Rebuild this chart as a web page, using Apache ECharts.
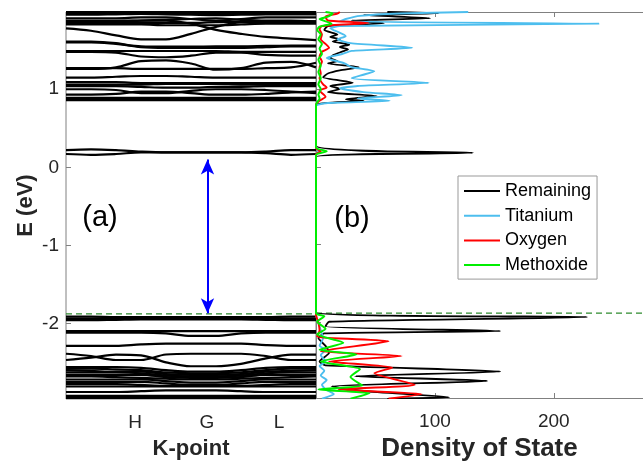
<!DOCTYPE html>
<html>
<head>
<meta charset="utf-8">
<script src="https://cdn.jsdelivr.net/npm/echarts@6/dist/echarts.min.js"></script>
<style>
  html, body { margin: 0; padding: 0; background: #fff; }
  #chart { width: 643px; height: 467px; }
</style>
</head>
<body>
<div id="chart"></div>
<script>
// k-path sample points and labels (band structure panel)
const kPts = [0, 0.1, 0.2, 0.3, 0.4, 0.5, 0.6, 0.7, 0.8, 0.9, 1.0];
const kTicks = [0.276, 0.564, 0.852];
const kLabels = ['H', 'G', 'L'];
const eTicks = [-2, -1, 0, 1];
const dosTicks = [100, 200];

// band energies (eV) at each k point
const upperBands = [
  [1.99, 1.99, 1.99, 1.99, 1.99, 1.99, 1.99, 1.99, 1.99, 1.99, 1.99],
  [1.975, 1.975, 1.98, 1.98, 1.975, 1.97, 1.975, 1.98, 1.98, 1.975, 1.975],
  [1.955, 1.955, 1.96, 1.965, 1.96, 1.955, 1.95, 1.955, 1.96, 1.96, 1.96],
  [1.91, 1.91, 1.91, 1.92, 1.92, 1.90, 1.88, 1.90, 1.92, 1.92, 1.92],
  [1.87, 1.87, 1.87, 1.88, 1.89, 1.90, 1.91, 1.89, 1.88, 1.88, 1.87],
  [1.85, 1.85, 1.85, 1.85, 1.85, 1.85, 1.86, 1.86, 1.86, 1.85, 1.85],
  [1.83, 1.83, 1.83, 1.83, 1.82, 1.82, 1.82, 1.83, 1.84, 1.84, 1.84],
  [1.78, 1.75, 1.69, 1.64, 1.64, 1.71, 1.80, 1.86, 1.87, 1.87, 1.87],
  [1.88, 1.88, 1.88, 1.88, 1.88, 1.84, 1.76, 1.71, 1.67, 1.65, 1.63],
  [1.61, 1.61, 1.59, 1.54, 1.53, 1.53, 1.53, 1.53, 1.54, 1.55, 1.55],
  [1.60, 1.60, 1.58, 1.55, 1.545, 1.545, 1.55, 1.55, 1.555, 1.56, 1.56],
  [1.49, 1.49, 1.49, 1.49, 1.49, 1.49, 1.49, 1.48, 1.48, 1.48, 1.48],
  [1.48, 1.48, 1.47, 1.42, 1.41, 1.43, 1.47, 1.47, 1.44, 1.43, 1.43],
  [1.26, 1.26, 1.28, 1.36, 1.37, 1.33, 1.25, 1.27, 1.34, 1.35, 1.28],
  [1.27, 1.27, 1.27, 1.26, 1.26, 1.26, 1.26, 1.26, 1.27, 1.28, 1.34],
  [1.15, 1.15, 1.16, 1.17, 1.17, 1.16, 1.15, 1.15, 1.15, 1.15, 1.15],
  [1.09, 1.09, 1.09, 1.08, 1.08, 1.08, 1.08, 1.08, 1.08, 1.08, 1.08],
  [1.06, 1.06, 1.06, 1.06, 1.07, 1.07, 1.07, 1.06, 1.06, 1.06, 1.06],
  [1.04, 1.04, 1.04, 1.03, 1.02, 1.02, 1.03, 1.03, 1.04, 1.04, 1.04],
  [1.00, 1.00, 0.99, 0.95, 0.95, 0.98, 1.00, 1.00, 0.99, 0.97, 0.95],
  [0.93, 0.93, 0.94, 0.97, 0.97, 0.95, 0.93, 0.93, 0.94, 0.96, 0.97],
  [0.89, 0.89, 0.89, 0.89, 0.89, 0.89, 0.89, 0.89, 0.89, 0.89, 0.89],
  [0.86, 0.86, 0.86, 0.86, 0.86, 0.86, 0.86, 0.86, 0.86, 0.86, 0.86]
];
const gapBands = [
  [0.22, 0.23, 0.22, 0.20, 0.19, 0.19, 0.19, 0.19, 0.20, 0.22, 0.22],
  [0.17, 0.16, 0.17, 0.19, 0.19, 0.19, 0.19, 0.19, 0.18, 0.16, 0.17]
];
const lowerBands = [
  [-1.915, -1.915, -1.92, -1.92, -1.92, -1.92, -1.92, -1.92, -1.92, -1.915, -1.915],
  [-1.94, -1.94, -1.94, -1.935, -1.935, -1.935, -1.935, -1.94, -1.94, -1.94, -1.94],
  [-1.96, -1.96, -1.955, -1.95, -1.95, -1.95, -1.95, -1.95, -1.955, -1.96, -1.96],
  [-2.10, -2.10, -2.10, -2.10, -2.10, -2.10, -2.10, -2.10, -2.10, -2.10, -2.10],
  [-2.12, -2.12, -2.12, -2.12, -2.13, -2.16, -2.16, -2.13, -2.12, -2.12, -2.12],
  [-2.29, -2.29, -2.29, -2.27, -2.26, -2.26, -2.26, -2.26, -2.28, -2.29, -2.29],
  [-2.39, -2.42, -2.47, -2.47, -2.40, -2.39, -2.39, -2.39, -2.42, -2.47, -2.47],
  [-2.47, -2.44, -2.40, -2.41, -2.50, -2.55, -2.55, -2.52, -2.45, -2.40, -2.40],
  [-2.56, -2.56, -2.56, -2.57, -2.60, -2.62, -2.62, -2.60, -2.57, -2.56, -2.56],
  [-2.58, -2.58, -2.59, -2.60, -2.63, -2.64, -2.64, -2.63, -2.60, -2.58, -2.58],
  [-2.60, -2.61, -2.62, -2.62, -2.65, -2.66, -2.66, -2.65, -2.62, -2.61, -2.60],
  [-2.63, -2.63, -2.63, -2.64, -2.67, -2.68, -2.68, -2.67, -2.64, -2.63, -2.63],
  [-2.66, -2.66, -2.66, -2.66, -2.69, -2.70, -2.70, -2.69, -2.66, -2.66, -2.66],
  [-2.68, -2.68, -2.69, -2.70, -2.71, -2.72, -2.72, -2.71, -2.70, -2.69, -2.68],
  [-2.72, -2.72, -2.72, -2.72, -2.74, -2.76, -2.76, -2.74, -2.72, -2.72, -2.72],
  [-2.75, -2.75, -2.75, -2.75, -2.77, -2.79, -2.79, -2.77, -2.75, -2.75, -2.75],
  [-2.78, -2.78, -2.78, -2.79, -2.80, -2.80, -2.80, -2.80, -2.79, -2.78, -2.78],
  [-2.81, -2.81, -2.81, -2.81, -2.81, -2.81, -2.81, -2.81, -2.81, -2.81, -2.81],
  [-2.88, -2.88, -2.88, -2.87, -2.86, -2.86, -2.86, -2.87, -2.88, -2.88, -2.88],
  [-2.93, -2.93, -2.93, -2.93, -2.93, -2.93, -2.93, -2.93, -2.93, -2.93, -2.93],
  [-2.955, -2.955, -2.955, -2.955, -2.955, -2.955, -2.955, -2.955, -2.955, -2.955, -2.955]
];

// gap markers
const vbm = -1.88;
const arrowTop = 0.1;
const gapK = 0.566;

// density of states: [DOS, E]
const remaining = [
  [60, 1.99], [103, 1.975], [40, 1.95], [96, 1.91], [30, 1.88], [57, 1.845], [10, 1.81],
  [7, 1.76], [18, 1.70], [12, 1.67], [20, 1.64], [14, 1.61], [28, 1.57], [20, 1.54],
  [27, 1.51], [22, 1.48], [15, 1.44], [12, 1.40], [18, 1.36], [10, 1.33], [36, 1.28],
  [20, 1.24], [10, 1.20], [6, 1.15], [31, 1.08], [12, 1.04], [20, 1.00], [10, 0.96],
  [51, 0.91], [25, 0.87], [40, 0.85], [8, 0.82], [0, 0.79], [0, 0.27], [132, 0.18],
  [0, 0.13], [0, -1.87], [228, -1.93], [11, -1.99], [8, -2.05], [155, -2.11], [7, -2.14],
  [2, -2.20], [8, -2.30], [11, -2.39], [3, -2.50], [8, -2.55], [155, -2.63], [33, -2.69],
  [144, -2.75], [13, -2.82], [40, -2.88], [112, -2.96], [60, -2.98]
];
const titanium = [
  [128, 1.99], [70, 1.97], [37, 1.94], [25, 1.90], [20, 1.87], [238, 1.84], [20, 1.81],
  [12, 1.78], [16, 1.75], [25, 1.68], [18, 1.64], [29, 1.59], [81, 1.53], [30, 1.49],
  [22, 1.45], [9, 1.40], [24, 1.33], [30, 1.28], [49, 1.23], [30, 1.14], [95, 1.08],
  [35, 1.04], [20, 1.01], [40, 0.96], [72, 0.92], [35, 0.88], [62, 0.85], [10, 0.82],
  [2, 0.80], [0, 0.78], [0, 0.25], [2, 0.20], [0, 0.15], [0, -1.90], [2, -2.00],
  [4, -2.10], [6, -2.20], [3, -2.30], [8, -2.35], [4, -2.42], [8, -2.50], [3, -2.56],
  [7, -2.62], [4, -2.68], [9, -2.74], [5, -2.80], [8, -2.86], [15, -2.92], [5, -2.98]
];
const oxygen = [
  [20, 1.99], [18, 1.97], [8, 1.93], [10, 1.88], [44, 1.85], [5, 1.81], [3, 1.77],
  [5, 1.70], [4, 1.64], [8, 1.58], [11, 1.53], [5, 1.48], [3, 1.42], [5, 1.35],
  [3, 1.28], [4, 1.20], [3, 1.14], [6, 1.06], [9, 1.02], [3, 0.98], [8, 0.90],
  [3, 0.85], [0, 0.80], [0, 0.24], [4, 0.20], [0, 0.16], [0, -1.90], [2, -2.00],
  [3, -2.10], [1, -2.18], [61, -2.24], [4, -2.37], [72, -2.43], [11, -2.50], [64, -2.58],
  [49, -2.65], [83, -2.80], [19, -2.86], [89, -2.92], [61, -2.98]
];
const methoxide = [
  [8, 1.99], [14, 1.97], [10, 1.93], [3, 1.90], [13, 1.84], [3, 1.80], [1, 1.76],
  [4, 1.70], [2, 1.64], [5, 1.58], [3, 1.52], [5, 1.45], [2, 1.38], [4, 1.30],
  [2, 1.22], [4, 1.14], [2, 1.06], [4, 1.00], [2, 0.93], [3, 0.88], [1, 0.83],
  [0, 0.80], [0, 0.25], [9, 0.20], [0, 0.15], [0, -1.88], [7, -1.92], [1, -1.99],
  [8, -2.08], [1, -2.15], [23, -2.26], [3, -2.35], [34, -2.41], [4, -2.50], [37, -2.60],
  [29, -2.70], [39, -2.81], [2, -2.86], [45, -2.91], [29, -2.98]
];

const font = 'Liberation Sans';
const axisGray = '#808080';
const textDark = '#262626';
const dashGreen = '#2e8b2e';
const dosMax = 275;

const chart = echarts.init(document.getElementById('chart'));

const bandSeries = [...upperBands, ...gapBands, ...lowerBands].map((b, i) => ({
  type: 'line',
  name: 'band' + i,
  xAxisIndex: 0,
  yAxisIndex: 0,
  data: kPts.map((k, j) => [k, b[j]]),
  smooth: 0.35,
  symbol: 'none',
  silent: true,
  lineStyle: { color: '#000', width: 2.2 }
}));

function dosLine(name, data, color, width) {
  return {
    type: 'line',
    name: name,
    xAxisIndex: 1,
    yAxisIndex: 1,
    data: data,
    smooth: 0.2,
    symbol: 'none',
    silent: true,
    itemStyle: { color: color },
    lineStyle: { color: color, width: width }
  };
}

const frameLine = { show: true, onZero: false, lineStyle: { color: axisGray, width: 1 } };

const option = {
  animation: false,
  backgroundColor: '#fff',
  textStyle: { fontFamily: font },
  grid: [
    { left: 66, top: 12, width: 250, height: 387, show: true, borderColor: axisGray, borderWidth: 1 },
    { left: 316, top: 12, right: 0, height: 387 }
  ],
  xAxis: [
    {
      type: 'value', gridIndex: 0, min: 0, max: 1,
      name: 'K-point', nameLocation: 'middle', nameGap: 39,
      nameTextStyle: { fontSize: 22, fontWeight: 'bold', color: textDark, fontFamily: font },
      axisLine: { show: false, onZero: false },
      axisTick: { show: false },
      splitLine: { show: false },
      axisLabel: {
        customValues: kTicks, fontSize: 19, color: textDark, margin: 14, fontFamily: font,
        formatter: (v) => {
          let best = 0;
          kTicks.forEach((t, i) => { if (Math.abs(t - v) < Math.abs(kTicks[best] - v)) best = i; });
          return kLabels[best];
        }
      }
    },
    {
      type: 'value', gridIndex: 1, min: 0, max: dosMax, position: 'bottom',
      name: 'Density of State', nameLocation: 'middle', nameGap: 38,
      nameTextStyle: { fontSize: 26, fontWeight: 'bold', color: textDark, fontFamily: font },
      axisLine: frameLine,
      axisTick: { show: true, inside: true, length: 5, customValues: dosTicks, lineStyle: { color: axisGray } },
      splitLine: { show: false },
      axisLabel: { customValues: dosTicks, fontSize: 19, color: textDark, margin: 14, fontFamily: font }
    },
    {
      type: 'value', gridIndex: 1, min: 0, max: dosMax, position: 'top',
      axisLine: frameLine,
      axisTick: { show: true, inside: true, length: 5, customValues: dosTicks, lineStyle: { color: axisGray } },
      splitLine: { show: false },
      axisLabel: { show: false }
    }
  ],
  yAxis: [
    {
      type: 'value', gridIndex: 0, min: -2.97, max: 1.99,
      name: 'E (eV)', nameLocation: 'middle', nameGap: 29,
      nameTextStyle: { fontSize: 22, fontWeight: 'bold', color: textDark, fontFamily: font },
      axisLine: { show: false, onZero: false },
      axisTick: { show: true, inside: true, length: 5, customValues: eTicks, lineStyle: { color: axisGray } },
      splitLine: { show: false },
      axisLabel: { customValues: eTicks, fontSize: 19, color: textDark, margin: 7, fontFamily: font }
    },
    {
      type: 'value', gridIndex: 1, min: -2.97, max: 1.99,
      axisLine: frameLine,
      axisTick: { show: true, inside: true, length: 5, customValues: eTicks, lineStyle: { color: axisGray } },
      splitLine: { show: false },
      axisLabel: { show: false }
    }
  ],
  legend: {
    data: ['Remaining', 'Titanium', 'Oxygen', 'Methoxide'],
    orient: 'vertical',
    left: 458,
    top: 176,
    padding: [6, 6, 5, 6],
    itemGap: 6.7,
    itemWidth: 36,
    itemHeight: 2,
    icon: 'rect',
    borderColor: '#999',
    borderWidth: 1,
    backgroundColor: '#fff',
    textStyle: { fontSize: 18, lineHeight: 18, color: '#000', fontFamily: font }
  },
  graphic: [
    { type: 'text', x: 100, y: 218, style: { text: '(a)', fontSize: 29, fontFamily: font, fill: '#000', align: 'center', verticalAlign: 'middle' } },
    { type: 'text', x: 352, y: 219, style: { text: '(b)', fontSize: 29, fontFamily: font, fill: '#000', align: 'center', verticalAlign: 'middle' } }
  ],
  series: [
    ...bandSeries,
    {
      type: 'line', name: 'vbm-a', xAxisIndex: 0, yAxisIndex: 0,
      data: [[0, vbm], [1, vbm]], symbol: 'none', silent: true,
      lineStyle: { color: dashGreen, width: 1.2, type: [6, 4] },
      markLine: {
        silent: true,
        symbol: ['arrow', 'arrow'],
        symbolSize: [10, 15],
        label: { show: false },
        lineStyle: { color: '#0000ff', width: 2, type: 'solid' },
        data: [[{ coord: [gapK, arrowTop] }, { coord: [gapK, vbm + 0.01] }]]
      }
    },
    {
      type: 'line', name: 'vbm-b', xAxisIndex: 1, yAxisIndex: 1,
      data: [[0, vbm], [dosMax, vbm]], symbol: 'none', silent: true,
      lineStyle: { color: dashGreen, width: 1.2, type: [6, 4] }
    },
    dosLine('Remaining', remaining, '#000000', 1.8),
    dosLine('Titanium', titanium, '#4dbeee', 1.9),
    dosLine('Oxygen', oxygen, '#ff0000', 1.9),
    dosLine('Methoxide', methoxide, '#00ee00', 2)
  ]
};

chart.setOption(option);
</script>
</body>
</html>
